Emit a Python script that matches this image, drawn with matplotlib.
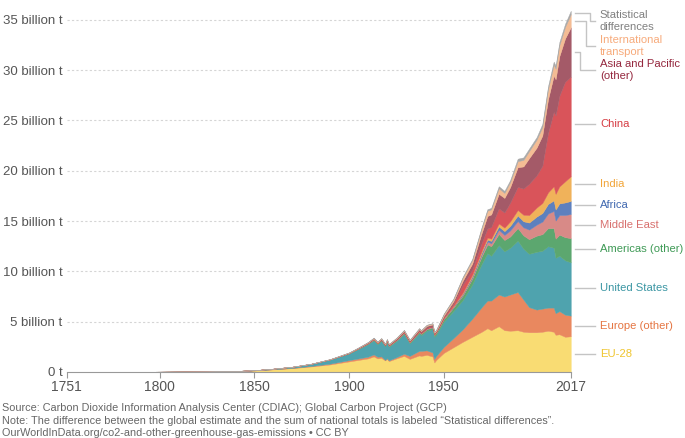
import numpy as np
import matplotlib
matplotlib.use('Agg')
import matplotlib.pyplot as plt
import matplotlib.transforms as mtransforms

plt.rcParams['font.family'] = ['Liberation Sans', 'DejaVu Sans']

# ------ data (billion tonnes CO2) ------
years = [1751, 1775, 1800, 1825, 1840, 1850, 1860, 1870, 1880, 1890,
         1900, 1905, 1910, 1913, 1915, 1917, 1919, 1920, 1921, 1925,
         1929, 1932, 1937, 1938, 1941, 1944, 1945, 1946, 1950, 1955,
         1960, 1965, 1970, 1973, 1975, 1979, 1982, 1985, 1989, 1992,
         1995, 1999, 2002, 2005, 2008, 2009, 2011, 2014, 2017]

eu28 = [0.009, 0.013, 0.027, 0.05, 0.09, 0.15, 0.26, 0.38, 0.55, 0.75,
        1.05, 1.2, 1.35, 1.55, 1.35, 1.4, 1.15, 1.3, 1.08, 1.35,
        1.6, 1.3, 1.65, 1.6, 1.7, 1.55, 0.95, 1.2, 1.9, 2.45,
        3.0, 3.5, 4.0, 4.35, 4.15, 4.55, 4.15, 4.1, 4.15, 4.0,
        3.95, 3.95, 4.0, 4.1, 4.0, 3.7, 3.75, 3.5, 3.55]
europe_other = [0.0005, 0.001, 0.002, 0.003, 0.005, 0.008, 0.015, 0.03, 0.05, 0.08,
                0.13, 0.15, 0.17, 0.2, 0.17, 0.15, 0.06, 0.07, 0.08, 0.12,
                0.22, 0.3, 0.45, 0.5, 0.45, 0.4, 0.35, 0.4, 0.6, 0.9,
                1.25, 1.8, 2.45, 2.75, 2.95, 3.15, 3.35, 3.6, 3.8, 3.2,
                2.5, 2.25, 2.3, 2.3, 2.4, 2.15, 2.3, 2.2, 2.05]
united_states = [0.0, 0.0002, 0.0005, 0.002, 0.006, 0.02, 0.05, 0.1, 0.2, 0.4,
                 0.66, 0.95, 1.25, 1.4, 1.25, 1.55, 1.35, 1.6, 1.35, 1.6,
                 1.95, 1.25, 1.75, 1.55, 1.95, 2.3, 2.2, 2.1, 2.5, 2.7,
                 2.9, 3.4, 4.3, 4.7, 4.45, 4.9, 4.5, 4.65, 5.1, 5.05,
                 5.3, 5.75, 5.75, 6.1, 5.95, 5.5, 5.5, 5.4, 5.3]
americas_other = [0.0, 0.0, 0.0, 0.0002, 0.0005, 0.001, 0.003, 0.006, 0.01, 0.02,
                  0.035, 0.05, 0.07, 0.09, 0.08, 0.09, 0.08, 0.1, 0.09, 0.1,
                  0.13, 0.1, 0.14, 0.14, 0.16, 0.18, 0.18, 0.19, 0.25, 0.33,
                  0.45, 0.57, 0.75, 0.88, 0.95, 1.12, 1.12, 1.12, 1.25, 1.33,
                  1.45, 1.6, 1.65, 1.8, 1.95, 1.9, 2.1, 2.3, 2.4]
middle_east = [0.0, 0.0, 0.0, 0.0, 0.0, 0.0, 0.0, 0.0, 0.0, 0.0,
               0.0, 0.0005, 0.001, 0.001, 0.001, 0.002, 0.002, 0.002, 0.003, 0.004,
               0.005, 0.006, 0.01, 0.01, 0.012, 0.015, 0.015, 0.02, 0.03, 0.05,
               0.08, 0.12, 0.2, 0.28, 0.3, 0.42, 0.5, 0.6, 0.7, 0.8,
               0.95, 1.1, 1.25, 1.45, 1.7, 1.8, 1.95, 2.2, 2.4]
africa = [0.0, 0.0, 0.0, 0.0, 0.0, 0.0002, 0.0005, 0.001, 0.002, 0.003,
          0.005, 0.007, 0.01, 0.012, 0.012, 0.013, 0.013, 0.015, 0.014, 0.017,
          0.02, 0.018, 0.025, 0.026, 0.028, 0.03, 0.03, 0.032, 0.05, 0.07,
          0.1, 0.13, 0.17, 0.2, 0.23, 0.32, 0.38, 0.45, 0.55, 0.6,
          0.7, 0.8, 0.85, 0.95, 1.05, 1.1, 1.15, 1.25, 1.3]
india = [0.0, 0.0, 0.0, 0.0, 0.0, 0.0, 0.001, 0.002, 0.003, 0.005,
         0.01, 0.012, 0.015, 0.017, 0.017, 0.018, 0.019, 0.02, 0.019, 0.022,
         0.025, 0.023, 0.028, 0.029, 0.03, 0.03, 0.03, 0.032, 0.04, 0.05,
         0.11, 0.15, 0.18, 0.2, 0.23, 0.3, 0.35, 0.45, 0.55, 0.65,
         0.75, 0.9, 1.0, 1.15, 1.4, 1.55, 1.7, 2.1, 2.45]
china = [0.0, 0.0, 0.0, 0.0, 0.0, 0.0, 0.0, 0.001, 0.002, 0.005,
         0.01, 0.012, 0.015, 0.02, 0.02, 0.022, 0.022, 0.025, 0.024, 0.027,
         0.03, 0.03, 0.04, 0.035, 0.05, 0.04, 0.03, 0.03, 0.08, 0.2,
         0.78, 0.5, 0.78, 0.9, 1.15, 1.5, 1.5, 1.85, 2.3, 2.6,
         3.1, 3.2, 3.7, 5.9, 7.4, 7.8, 9.0, 9.9, 9.9]
asia_pacific_other = [0.0, 0.0, 0.0, 0.0, 0.0, 0.0005, 0.001, 0.002, 0.003, 0.006,
                      0.02, 0.03, 0.05, 0.06, 0.06, 0.07, 0.07, 0.08, 0.07, 0.09,
                      0.11, 0.1, 0.16, 0.17, 0.2, 0.18, 0.1, 0.08, 0.16, 0.25,
                      0.4, 0.6, 1.0, 1.25, 1.25, 1.45, 1.45, 1.55, 1.95, 2.2,
                      2.55, 2.75, 3.0, 3.35, 3.6, 3.6, 3.95, 4.3, 4.9]
intl_transport = [0.0, 0.0, 0.0, 0.0, 0.0, 0.001, 0.003, 0.006, 0.01, 0.015,
                  0.02, 0.03, 0.04, 0.05, 0.04, 0.04, 0.04, 0.05, 0.045, 0.06,
                  0.07, 0.06, 0.08, 0.08, 0.09, 0.1, 0.1, 0.1, 0.15, 0.2,
                  0.3, 0.35, 0.45, 0.52, 0.5, 0.55, 0.5, 0.5, 0.6, 0.65,
                  0.7, 0.8, 0.85, 1.0, 1.1, 1.05, 1.1, 1.15, 1.3]
stat_diff = [0.0, 0.0, 0.0, 0.0, 0.0, 0.0, 0.0, 0.0, 0.0, 0.0,
             0.01, 0.01, 0.02, 0.02, 0.02, 0.02, 0.02, 0.02, 0.02, 0.02,
             0.03, 0.03, 0.03, 0.03, 0.03, 0.03, 0.03, 0.03, 0.05, 0.08,
             0.1, 0.12, 0.15, 0.15, 0.15, 0.2, 0.2, 0.2, 0.25, 0.25,
             0.25, 0.25, 0.3, 0.3, 0.3, 0.3, 0.3, 0.3, 0.35]

labels = ['EU-28', 'Europe (other)', 'United States', 'Americas (other)', 'Middle East',
          'Africa', 'India', 'China', 'Asia and Pacific\n(other)', 'International\ntransport',
          'Statistical\ndifferences']
series = [eu28, europe_other, united_states, americas_other, middle_east,
          africa, india, china, asia_pacific_other, intl_transport, stat_diff]

y_ticks = [0, 5, 10, 15, 20, 25, 30, 35]
y_ticklabels = ['0 t', '5 billion t', '10 billion t', '15 billion t', '20 billion t',
                '25 billion t', '30 billion t', '35 billion t']
x_ticks = [1751, 1800, 1850, 1900, 1950, 2017]

# ------ styles ------
fill_colors = ['#F9DC73', '#E9885F', '#4FA3AE', '#5CA76F', '#D88A87',
               '#5E80BE', '#F0B25A', '#D9545A', '#A45A68', '#F4BC94', '#A8A8A8']
text_colors = ['#EFC52E', '#E57542', '#3B96A3', '#3F9A56', '#D8706E',
               '#4169B0', '#F2A63A', '#D63C43', '#95283F', '#F7AB7C', '#808080']
# label vertical positions (data units) and elbow x for the crowded top labels
label_y = [1.75, 4.6, 8.3, 12.2, 14.6, 16.6, 18.7, 24.6, 30.0, 32.4, 34.9]
elbow_x = [None] * 8 + [1.019, 1.031, 1.039]

fig = plt.figure(figsize=(6.85, 4.38), dpi=100)
ax = fig.add_axes([0.0974, 0.1507, 0.7358, 0.827])

ax.stackplot(years, *series, colors=fill_colors, linewidth=0.3, edgecolor='face')
ax.set_xlim(1751, 2017)
ax.set_ylim(0, 36)

ax.set_yticks(y_ticks)
ax.set_yticklabels(y_ticklabels)
ax.set_xticks(x_ticks)
ax.tick_params(axis='y', length=0, pad=3, labelsize=9.5, labelcolor='#555555')
ax.tick_params(axis='x', length=4, color='#999999', labelsize=10, labelcolor='#555555', pad=2)
for y in y_ticks[1:]:
    ax.axhline(y, color='#d5d5d5', lw=0.8, ls=(0, (2, 2)), zorder=0)
for s in ['top', 'right', 'left']:
    ax.spines[s].set_visible(False)
ax.spines['bottom'].set_color('#999999')
ax.set_axisbelow(True)

# ------ right-hand labels with leader lines ------
last = np.array(series)[:, -1]
mids = np.cumsum(last) - last / 2
trans = mtransforms.blended_transform_factory(ax.transAxes, ax.transData)
for i, lab in enumerate(labels):
    if elbow_x[i] is None:
        ax.plot([1.008, 1.048], [label_y[i], label_y[i]], color='#c4c4c4', lw=1.0,
                transform=trans, clip_on=False)
    else:
        ax.plot([1.008, elbow_x[i], elbow_x[i], 1.048],
                [mids[i], mids[i], label_y[i], label_y[i]],
                color='#c4c4c4', lw=1.0, transform=trans, clip_on=False)
    ax.text(1.058, label_y[i], lab, transform=trans, color=text_colors[i],
            fontsize=8.1, va='center', ha='left', linespacing=1.2)

# ------ footer ------
foot = dict(fontsize=7.85, color='#666666', va='center')
fig.text(0.003, 0.0685, 'Source: Carbon Dioxide Information Analysis Center (CDIAC); Global Carbon Project (GCP)', **foot)
fig.text(0.003, 0.039, 'Note: The difference between the global estimate and the sum of national totals is labeled \u201cStatistical differences\u201d.', **foot)
fig.text(0.003, 0.0114, 'OurWorldInData.org/co2-and-other-greenhouse-gas-emissions \u2022 CC BY', **foot)

fig.savefig('out.png', dpi=100)
